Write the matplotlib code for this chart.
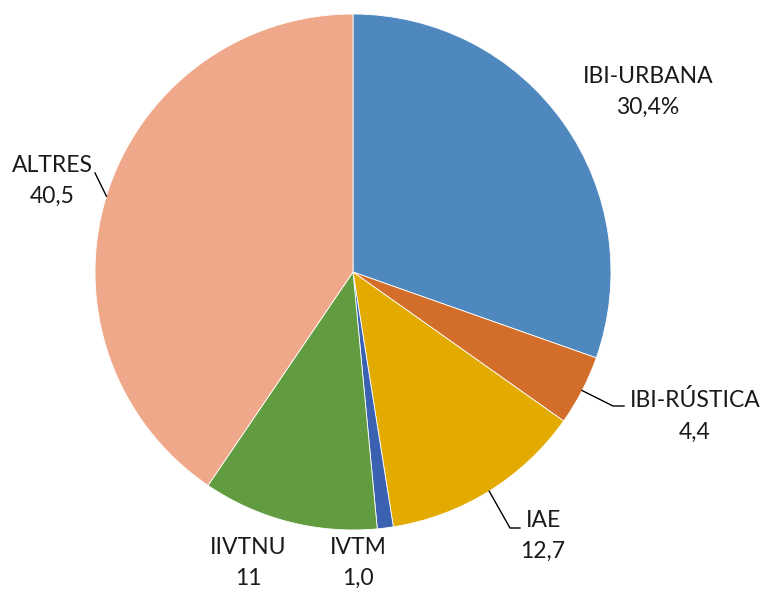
import numpy as np
import matplotlib
matplotlib.use("Agg")
import matplotlib.pyplot as plt

# data
categories = ["IBI-URBANA", "IBI-RÚSTICA", "IAE", "IVTM", "IIVTNU", "ALTRES"]
values = [30.4, 4.4, 12.7, 1.0, 11, 40.5]
value_labels = ["30,4%", "4,4", "12,7", "1,0", "11", "40,5"]
colors = ["#4F88BE", "#D36E2A", "#E3AA00", "#3A62B0", "#629C40", "#F0A88A"]

W, H = 762, 594
cx, cy, R = 353, 272, 258

plt.rcParams['font.family'] = ['Lato', 'DejaVu Sans']

fig = plt.figure(figsize=(W / 100, H / 100), dpi=100)
ax = fig.add_axes([0, 0, 1, 1])

# pie in pixel coords; y axis is flipped, so draw counterclock to get clockwise on screen
wedges, _ = ax.pie(values, colors=colors, startangle=-90, counterclock=True,
                   center=(cx, cy), radius=R, frame=True,
                   wedgeprops=dict(linewidth=0.6, edgecolor="white"))
ax.set_xlim(0, W)
ax.set_ylim(H, 0)
ax.set_aspect('equal')
ax.axis('off')

# label block centres and leader line elbows
label_pos = {
    "IBI-URBANA": (648, 92),
    "IBI-RÚSTICA": (695, 416),
    "IAE": (543, 536),
    "IVTM": (358, 563),
    "IIVTNU": (248, 563),
    "ALTRES": (52, 181),
}
elbows = {
    "IBI-RÚSTICA": [(613, 406), (624, 406)],
    "IAE": [(510, 528), (520, 528)],
    "ALTRES": [(95, 173)],
}

cum = np.cumsum([0] + values)
for name, lab, a, b in zip(categories, value_labels, cum[:-1], cum[1:]):
    x, y = label_pos[name]
    ax.text(x, y, name + "\n" + lab, ha="center", va="center", fontsize=16.5,
            color="#1a1a1a", linespacing=1.62)
    if name in elbows:
        mid = np.deg2rad(90 - (a + b) / 2 * 3.6)
        px, py = cx + R * np.cos(mid), cy - R * np.sin(mid)
        pts = [(px, py)] + elbows[name]
        ax.plot([p[0] for p in pts], [p[1] for p in pts], color="black", lw=1)

fig.savefig("out.png", dpi=100)
